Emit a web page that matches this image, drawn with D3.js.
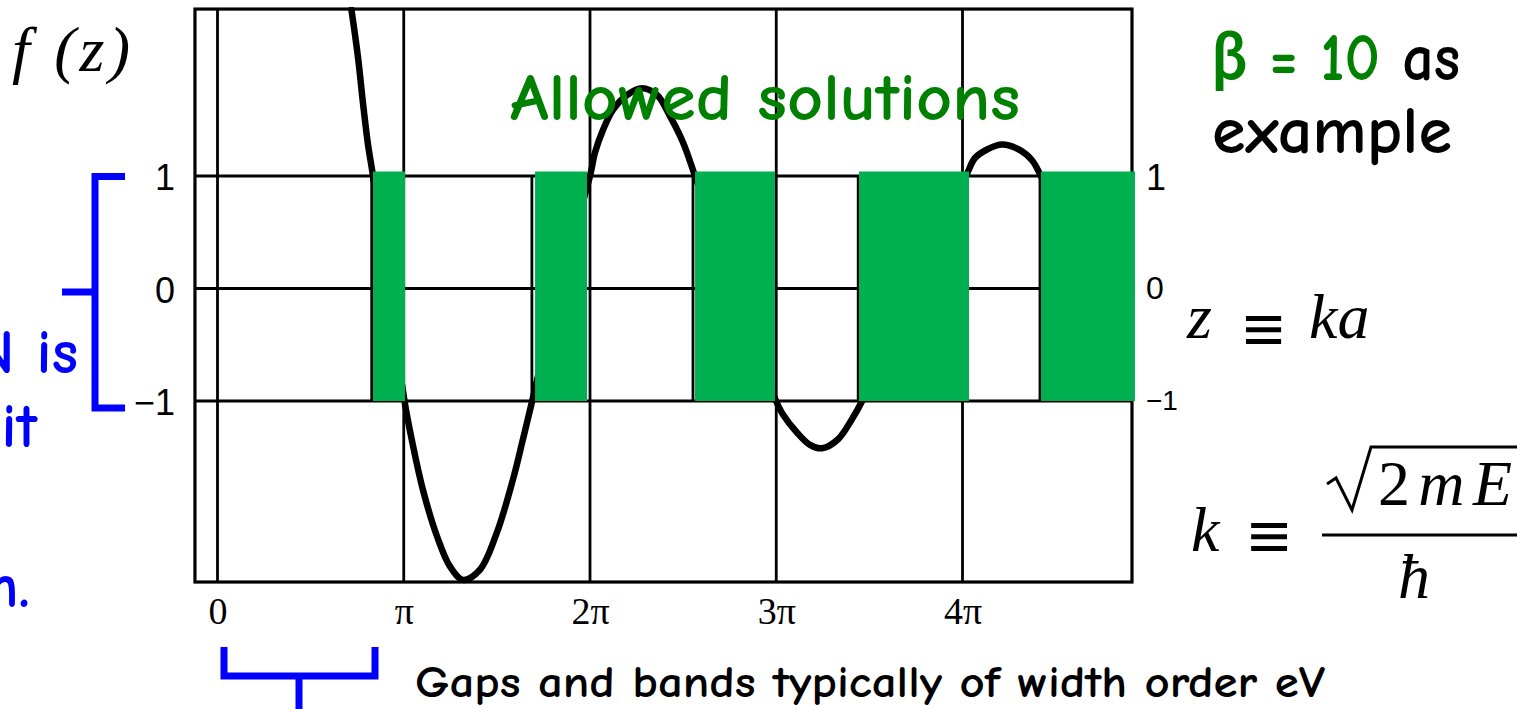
<!DOCTYPE html>
<html>
<head>
<meta charset="utf-8">
<script src="https://cdn.jsdelivr.net/npm/d3@7"></script>
<style>
  html, body { margin: 0; padding: 0; background: #fff; }
  svg { display: block; }
</style>
</head>
<body>
<svg id="chart" width="1534" height="709"></svg>
<script>
// z in units of pi, f(z) dimensionless
const zTicks = [0, 1, 2, 3, 4];
const zTickLabels = ["0", "π", "2π", "3π", "4π"];
const fTicks = [1, 0, -1];
const fTickLabels = ["1", "0", "\u22121"];

// f(z) sampled along the curve (z in multiples of pi)
const curveZ = [0.719, 0.754, 0.781, 0.808, 0.835, 0.921, 1.004, 1.050, 1.103, 1.178,
                1.248, 1.318, 1.409, 1.500, 1.586, 1.640, 1.688, 1.839, 2.000, 2.027,
                2.070, 2.124, 2.199, 2.279, 2.360, 2.430, 2.499, 2.564, 2.779, 2.999,
                3.036, 3.111, 3.181, 3.246, 3.332, 3.407, 3.461, 3.740, 4.019, 4.067,
                4.137, 4.212, 4.309, 4.373, 4.421, 4.685, 4.910];
const curveF = [2.48, 2.06, 1.65, 1.28, 1.00, 0.00, -1.00, -1.40, -1.79, -2.20,
                -2.47, -2.59, -2.50, -2.17, -1.70, -1.34, -1.01, 0.04, 1.00, 1.21,
                1.41, 1.59, 1.72, 1.78, 1.72, 1.53, 1.30, 1.00, -0.03, -1.00,
                -1.12, -1.28, -1.39, -1.42, -1.34, -1.16, -1.00, 0.06, 1.00, 1.16,
                1.24, 1.28, 1.23, 1.14, 1.00, 0.02, -0.73];

// allowed bands (shaded) and the band edges of the underlying figure
const bandStart = [0.835, 1.705, 2.564, 3.444, 4.421];
const bandEnd   = [1.007, 1.984, 2.993, 4.035, 4.926];
const bandEdge  = [0.828, 1.688, 2.553, 3.440, 4.416];

const svg = d3.select("#chart");
const W = 1534, H = 709;
svg.append("rect").attr("width", W).attr("height", H).attr("fill", "#fff");

const x = d3.scaleLinear().domain([0, 4]).range([217.5, 962.5]);
const y = d3.scaleLinear().domain([-1, 1]).range([401, 176]);
const zMin = -0.121, zMax = 4.91, fMin = -2.609, fMax = 2.484;
const bandTop = 1.04;

const X0 = x(zMin), X1 = x(zMax), Y0 = y(fMax), Y1 = y(fMin);

// grid
const grid = svg.append("g").attr("stroke", "#000").attr("stroke-width", 2.8);
grid.selectAll("line.v").data(zTicks).join("line").attr("class", "v")
  .attr("x1", d => x(d)).attr("x2", d => x(d)).attr("y1", Y0).attr("y2", Y1);
grid.selectAll("line.h").data(fTicks).join("line").attr("class", "h")
  .attr("x1", X0).attr("x2", X1).attr("y1", d => y(d)).attr("y2", d => y(d));

// band edges between f = -1 and f = 1
grid.selectAll("line.e").data(bandEdge).join("line").attr("class", "e")
  .attr("x1", d => x(d)).attr("x2", d => x(d)).attr("y1", y(1)).attr("y2", y(-1));

// frame
svg.append("rect").attr("x", X0).attr("y", Y0).attr("width", X1 - X0).attr("height", Y1 - Y0)
  .attr("fill", "none").attr("stroke", "#000").attr("stroke-width", 3.2);

// curve
svg.append("clipPath").attr("id", "plotclip").append("rect")
  .attr("x", X0).attr("y", Y0 - 2).attr("width", X1 - X0).attr("height", Y1 - Y0 + 4);
const pts = curveZ.map((z, i) => [z, curveF[i]]);
svg.append("path").datum(pts)
  .attr("clip-path", "url(#plotclip)")
  .attr("fill", "none").attr("stroke", "#000").attr("stroke-width", 6.5)
  .attr("stroke-linejoin", "round").attr("stroke-linecap", "round")
  .attr("d", d3.line().x(d => x(d[0])).y(d => y(d[1])).curve(d3.curveCatmullRom.alpha(0.5)));

// allowed bands
svg.append("g").selectAll("rect").data(bandStart.map((s, i) => [s, bandEnd[i]])).join("rect")
  .attr("x", d => x(d[0])).attr("width", d => x(d[1]) - x(d[0]))
  .attr("y", y(bandTop)).attr("height", y(-1) - y(bandTop))
  .attr("fill", "#00B050");

// axes
const axB = svg.append("g").attr("transform", `translate(0,${Y1})`)
  .call(d3.axisBottom(x).tickValues(zTicks).tickFormat((d, i) => zTickLabels[i]).tickSize(0).tickPadding(15));
axB.select(".domain").remove();
axB.selectAll("text").attr("font-family", "'Liberation Serif', 'Times New Roman', serif")
  .attr("font-size", 38).attr("fill", "#000");

const axL = svg.append("g").attr("transform", `translate(${X0},0)`)
  .call(d3.axisLeft(y).tickValues(fTicks).tickFormat((d, i) => fTickLabels[i]).tickSize(0).tickPadding(20));
axL.select(".domain").remove();
axL.selectAll("text").attr("font-family", "'Liberation Sans', Arial, sans-serif")
  .attr("font-size", 36).attr("fill", "#000").attr("dy", "0.38em");

const rightSizes = [36, 32, 28];
const axR = svg.append("g").attr("transform", `translate(${X1},0)`)
  .call(d3.axisRight(y).tickValues(fTicks).tickFormat((d, i) => fTickLabels[i]).tickSize(0).tickPadding(14));
axR.select(".domain").remove();
axR.selectAll("text").attr("font-family", "'Liberation Sans', Arial, sans-serif")
  .attr("font-size", (d, i) => rightSizes[i]).attr("fill", "#000").attr("dy", (d, i) => ["0.38em", "0.3em", "0.3em"][i]);

// axis title
const serif = "'Liberation Serif', 'Times New Roman', serif";
const mathSym = "'DejaVu Serif', serif";
svg.append("text").attr("x", 12).attr("y", 71).attr("font-family", serif).attr("font-style", "italic")
  .attr("font-size", 64).attr("textLength", 118).attr("lengthAdjust", "spacing").text("f (z)");

// z = ka
svg.append("text").attr("x", 1187).attr("y", 338).attr("font-family", serif).attr("font-style", "italic")
  .attr("font-size", 64).text("z");
svg.append("text").attr("x", 1240).attr("y", 350).attr("font-family", mathSym)
  .attr("font-size", 64).attr("textLength", 47).attr("lengthAdjust", "spacingAndGlyphs").text("\u2261");
svg.append("text").attr("x", 1309).attr("y", 338).attr("font-family", serif).attr("font-style", "italic")
  .attr("font-size", 64).text("ka");

// k = sqrt(2mE)/hbar
svg.append("text").attr("x", 1191).attr("y", 551).attr("font-family", serif).attr("font-style", "italic")
  .attr("font-size", 64).text("k");
svg.append("text").attr("x", 1245).attr("y", 557).attr("font-family", mathSym)
  .attr("font-size", 64).attr("textLength", 48).attr("lengthAdjust", "spacingAndGlyphs").text("\u2261");
svg.append("path").attr("d", "M1327,484 L1336,478 L1352,510 L1371,447 L1517,447")
  .attr("fill", "none").attr("stroke", "#000").attr("stroke-width", 3).attr("stroke-linejoin", "miter");
const num = svg.append("text").attr("x", 1378).attr("y", 505).attr("font-family", serif)
  .attr("font-size", 64).attr("textLength", 134).attr("lengthAdjust", "spacing");
num.append("tspan").text("2");
num.append("tspan").attr("font-style", "italic").text("mE");
svg.append("line").attr("x1", 1322).attr("x2", 1517).attr("y1", 535).attr("y2", 535)
  .attr("stroke", "#000").attr("stroke-width", 3);
svg.append("text").attr("x", 1398).attr("y", 598).attr("font-family", serif).attr("font-style", "italic")
  .attr("font-size", 64).text("\u0127");

// annotations
const hand = "'Comic Sans MS', 'Comic Neue', Lato, sans-serif";
svg.append("text").attr("x", 510).attr("y", 120).attr("font-family", hand).attr("font-size", 66)
  .attr("font-weight", 700)
  .attr("fill", "#008000").attr("textLength", 510).attr("lengthAdjust", "spacingAndGlyphs")
  .text("Allowed solutions");

const beta = svg.append("text").attr("x", 1212).attr("y", 80).attr("font-family", hand).attr("font-size", 66)
  .attr("font-weight", 700).attr("textLength", 248).attr("lengthAdjust", "spacingAndGlyphs");
beta.append("tspan").attr("fill", "#008000").text("\u03b2 = 10");
beta.append("tspan").attr("fill", "#000").text(" as");
svg.append("text").attr("x", 1212).attr("y", 153).attr("font-family", hand).attr("font-size", 66)
  .attr("font-weight", 700).attr("textLength", 240).attr("lengthAdjust", "spacingAndGlyphs").text("example");

svg.append("text").attr("x", 415).attr("y", 697).attr("font-family", hand).attr("font-size", 44)
  .attr("font-weight", 700).attr("textLength", 910).attr("lengthAdjust", "spacingAndGlyphs")
  .text("Gaps and bands typically of width order eV");

// side notes running off the left edge
const blue = "#0000FF";
svg.append("text").attr("x", 78).attr("y", 373).attr("text-anchor", "end").attr("font-family", hand)
  .attr("font-size", 62).attr("font-weight", 700).attr("fill", blue).text("N is");
svg.append("text").attr("x", 37).attr("y", 447).attr("text-anchor", "end").attr("font-family", hand)
  .attr("font-size", 62).attr("font-weight", 700).attr("fill", blue).text("unit");
svg.append("text").attr("x", 30).attr("y", 607).attr("text-anchor", "end").attr("font-family", hand)
  .attr("font-size", 62).attr("font-weight", 700).attr("fill", blue).text("ion.");

// brackets
svg.append("path").attr("d", "M125,176.5 H95 V408 H125 M95,292 H62")
  .attr("fill", "none").attr("stroke", blue).attr("stroke-width", 7);
svg.append("path").attr("d", "M224,647 V676 H375 V647 M299,676 V709")
  .attr("fill", "none").attr("stroke", blue).attr("stroke-width", 7);
</script>
</body>
</html>
